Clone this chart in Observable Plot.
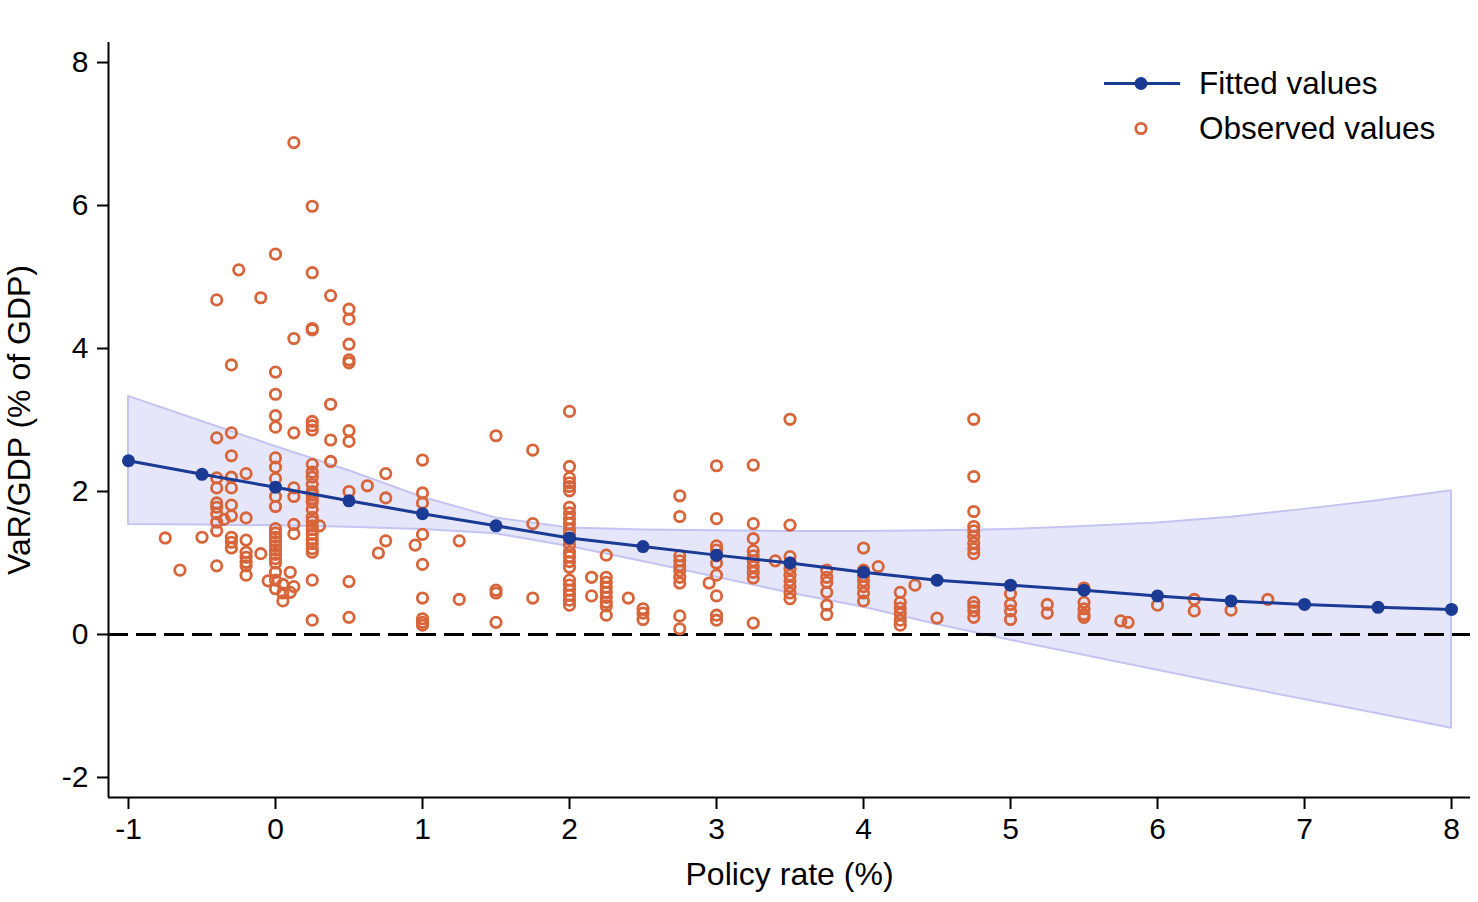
<!DOCTYPE html>
<html>
<head>
<meta charset="utf-8">
<script src="https://cdn.jsdelivr.net/npm/d3@7"></script>
<script src="https://cdn.jsdelivr.net/npm/@observablehq/plot@0.6"></script>
<style>
  html, body { margin: 0; padding: 0; background: #fff; overflow: hidden; }
  #wrap { position: relative; width: 1478px; height: 902px; }
  #legend { position: absolute; left: 1100px; top: 61px; font-family: "Liberation Sans", Arial, Helvetica, sans-serif; font-size: 31.5px; color: #000; }
  #legend .row { display: flex; align-items: center; height: 45px; }
  #legend svg { display: block; }
  #legend span { margin-left: 9px; }
</style>
</head>
<body>
<div id="wrap">
  <div id="chart"></div>
  <div id="legend">
    <div class="row">
      <svg width="90" height="45"><line x1="4" x2="80" y1="22.5" y2="22.5" stroke="#1a3a94" stroke-width="3"/><circle cx="41" cy="22.5" r="6.5" fill="#1a3a94"/></svg>
      <span>Fitted values</span>
    </div>
    <div class="row">
      <svg width="90" height="45"><circle cx="41" cy="22.5" r="5.2" fill="none" stroke="#d8643a" stroke-width="2.8"/></svg>
      <span>Observed values</span>
    </div>
  </div>
</div>
<script>
// Fitted curve with confidence band
const fitRate = [-1, -0.5, 0, 0.5, 1, 1.5, 2, 2.5, 3, 3.5, 4, 4.5, 5, 5.5, 6, 6.5, 7, 7.5, 8];
const fitVaR  = [2.43, 2.24, 2.06, 1.87, 1.69, 1.52, 1.35, 1.23, 1.11, 1.00, 0.87, 0.76, 0.69, 0.62, 0.54, 0.47, 0.42, 0.38, 0.35];
const ciHigh  = [3.33, 2.98, 2.63, 2.29, 1.92, 1.63, 1.49, 1.46, 1.45, 1.44, 1.44, 1.45, 1.47, 1.51, 1.56, 1.64, 1.75, 1.87, 2.01];
const ciLow   = [1.54, 1.53, 1.52, 1.50, 1.47, 1.41, 1.23, 1.02, 0.80, 0.58, 0.38, 0.14, -0.08, -0.29, -0.50, -0.71, -0.91, -1.11, -1.31];

// Observed values: policy rates and the VaR/GDP values observed at each rate
const obsRates = [-0.75, -0.65, -0.5, -0.4, -0.35, -0.3, -0.25, -0.2, -0.1, -0.05,
  0, 0.05, 0.1, 0.125, 0.25, 0.3, 0.375, 0.5, 0.625, 0.7, 0.75, 0.95,
  1, 1.25, 1.5, 1.75, 2, 2.15, 2.25, 2.4, 2.5, 2.75, 2.95,
  3, 3.25, 3.4, 3.5, 3.75, 4, 4.1, 4.25, 4.35, 4.5, 4.75,
  5, 5.25, 5.5, 5.75, 5.8, 6, 6.25, 6.5, 6.75];
const obsValues = [
  [1.35], [0.90], [1.36],
  [4.68, 2.75, 2.19, 2.05, 1.84, 1.78, 1.69, 1.57, 1.45, 0.96],
  [1.61],
  [3.77, 2.82, 2.50, 2.20, 2.05, 1.81, 1.66, 1.36, 1.29, 1.21],
  [5.10],
  [2.25, 1.63, 1.32, 1.15, 1.08, 1.01, 0.96, 0.83],
  [4.71, 1.13],
  [0.75],
  [5.32, 3.67, 3.36, 3.06, 2.90, 2.47, 2.34, 2.18, 1.93, 1.79, 1.48, 1.42, 1.36, 1.30, 1.24, 1.18, 1.12, 1.06, 1.00, 0.87, 0.76, 0.64],
  [0.70, 0.58, 0.47],
  [0.87, 0.59],
  [6.88, 4.14, 2.82, 2.05, 1.93, 1.54, 1.41, 0.67],
  [5.99, 5.06, 4.28, 4.26, 2.98, 2.92, 2.86, 2.38, 2.27, 2.20, 2.10, 2.00, 1.95, 1.90, 1.85, 1.75, 1.64, 1.58, 1.52, 1.47, 1.40, 1.33, 1.27, 1.20, 1.15, 0.76, 0.20],
  [1.52],
  [4.74, 3.22, 2.72, 2.42],
  [4.55, 4.41, 4.06, 3.84, 3.80, 2.85, 2.70, 2.00, 0.74, 0.24],
  [2.08],
  [1.14],
  [2.25, 1.91, 1.31],
  [1.25],
  [2.44, 1.98, 1.84, 1.40, 0.98, 0.51, 0.22, 0.17, 0.13],
  [1.31, 0.49],
  [2.78, 0.62, 0.58, 0.17],
  [2.58, 1.55, 0.51],
  [3.12, 2.35, 2.19, 2.12, 2.07, 2.01, 1.78, 1.70, 1.62, 1.55, 1.47, 1.40, 1.33, 1.25, 1.15, 1.09, 1.02, 0.94, 0.76, 0.69, 0.62, 0.55, 0.48, 0.41],
  [0.80, 0.54],
  [1.11, 0.80, 0.73, 0.66, 0.59, 0.52, 0.45, 0.40, 0.27],
  [0.51],
  [0.36, 0.30, 0.21],
  [1.94, 1.65, 1.10, 1.03, 0.96, 0.89, 0.80, 0.72, 0.26, 0.08],
  [0.72],
  [2.36, 1.62, 1.24, 1.18, 1.10, 1.00, 0.83, 0.54, 0.27, 0.20],
  [2.37, 1.55, 1.34, 1.17, 1.10, 1.03, 0.95, 0.87, 0.79, 0.16],
  [1.03],
  [3.01, 1.53, 1.09, 1.00, 0.92, 0.83, 0.75, 0.67, 0.58, 0.50],
  [0.90, 0.80, 0.73, 0.59, 0.41, 0.28],
  [1.21, 0.90, 0.82, 0.75, 0.67, 0.58, 0.47],
  [0.95],
  [0.59, 0.45, 0.37, 0.29, 0.20, 0.13],
  [0.69],
  [0.23],
  [3.01, 2.21, 1.72, 1.51, 1.45, 1.37, 1.28, 1.20, 1.13, 0.45, 0.39, 0.33, 0.24],
  [0.57, 0.42, 0.33, 0.21],
  [0.42, 0.30],
  [0.65, 0.45, 0.36, 0.28, 0.24],
  [0.19], [0.17], [0.41],
  [0.49, 0.33],
  [0.34],
  [0.49]
];

// Axis ticks and labels
const xTicks = [-1, 0, 1, 2, 3, 4, 5, 6, 7, 8];
const yTicks = [-2, 0, 2, 4, 6, 8];
const xDomain = [-1.136, 8.129];
const yDomain = [-2.28, 8.28];
const xLabel = "Policy rate (%)";
const yLabel = "VaR/GDP (% of GDP)";

const fit = fitRate.map((r, i) => ({rate: r, v: fitVaR[i], lo: ciLow[i], hi: ciHigh[i]}));
const obs = obsRates.flatMap((r, i) => obsValues[i].map(v => ({rate: r, v})));

const FONT = "'Liberation Sans', Arial, Helvetica, sans-serif";
const BLUE = "#1a3a94";
const ORANGE = "#d8643a";

const chart = Plot.plot({
  width: 1478,
  height: 902,
  marginLeft: 108,
  marginRight: 8,
  marginTop: 42,
  marginBottom: 105,
  style: {fontFamily: FONT, fontSize: "30px", color: "#000", background: "#fff"},
  x: {domain: xDomain},
  y: {domain: yDomain},
  marks: [
    Plot.areaY(fit, {x: "rate", y1: "lo", y2: "hi", fill: "#e6e6fa", stroke: "#c4c4f2", strokeWidth: 2}),
    Plot.ruleY([0], {stroke: "#000", strokeWidth: 3, strokeDasharray: "20,8"}),
    Plot.dot(obs, {x: "rate", y: "v", r: 5.2, stroke: ORANGE, strokeWidth: 2.8, fill: "none"}),
    Plot.line(fit, {x: "rate", y: "v", stroke: BLUE, strokeWidth: 3}),
    Plot.dot(fit, {x: "rate", y: "v", r: 6.5, fill: BLUE}),
    Plot.ruleX([xDomain[0]], {stroke: "#000", strokeWidth: 2}),
    Plot.ruleY([yDomain[0]], {stroke: "#000", strokeWidth: 2}),
    Plot.axisX({ticks: xTicks, tickSize: 12, tickPadding: 8, strokeWidth: 2, fontSize: 30, tickFormat: d => String(d), label: null}),
    Plot.axisY({ticks: yTicks, tickSize: 11, tickPadding: 9, strokeWidth: 2, fontSize: 30, tickFormat: d => String(d), label: null}),
    Plot.text([xLabel], {frameAnchor: "bottom", text: d => d, dy: 77, fontSize: 32, textAnchor: "middle", lineAnchor: "middle"}),
    Plot.text([yLabel], {frameAnchor: "left", text: d => d, rotate: -90, dx: -89, fontSize: 32, textAnchor: "middle", lineAnchor: "middle"})
  ]
});
document.getElementById("chart").appendChild(chart);
</script>
</body>
</html>
